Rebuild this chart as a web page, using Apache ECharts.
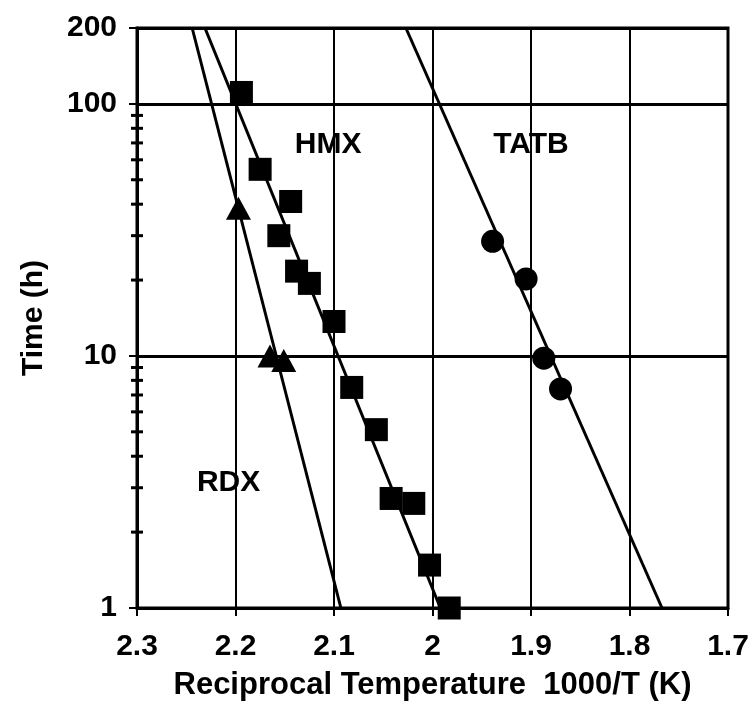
<!DOCTYPE html>
<html>
<head>
<meta charset="utf-8">
<script src="https://cdn.jsdelivr.net/npm/echarts@6/dist/echarts.min.js"></script>
<style>html,body{margin:0;padding:0;background:#fff;}#c{width:756px;height:713px;}</style>
</head>
<body>
<div id="c"></div>
<script>
// Measured data (x = 1000/T, y = time in h)
const hmxX = [2.194, 2.175, 2.144, 2.156, 2.138, 2.125, 2.100, 2.082, 2.057, 2.042, 2.019, 2.003, 1.983];
const hmxY = [111, 55, 41, 30, 21.7, 19.4, 13.7, 7.5, 5.1, 2.72, 2.6, 1.48, 1.0];
const rdxX = [2.197, 2.165, 2.151];
const rdxY = [38.5, 10.0, 9.6];
const tatbX = [1.939, 1.905, 1.887, 1.870];
const tatbY = [28.5, 20.2, 9.8, 7.4];
// Fitted lines (end points)
const fitY = [200, 1];
const hmxFitX = [2.231, 1.992];
const rdxFitX = [2.244, 2.093];
const tatbFitX = [2.027, 1.767];
// Series name labels
const labelNames = ['HMX', 'TATB', 'RDX'];
const labelX = [2.106, 1.900, 2.207];
const labelY = [69, 69, 3.15];
// Axis
const axisMinX = 1.7;
const axisMaxX = 2.3;
const minorTickValues = [2,3,4,5,6,7,8,9,20,30,40,50,60,70,80,90];

const zip = (xs, ys) => xs.map((x, i) => [x, ys[i]]);
const FONT = '"Liberation Sans", Arial, Helvetica, sans-serif';
const solid = {color: '#000', opacity: 1};

const chart = echarts.init(document.getElementById('c'), null, {renderer: 'canvas'});
chart.setOption({
  backgroundColor: '#fff',
  animation: false,
  grid: {left: 137, right: 28, top: 28, bottom: 105, show: true, borderColor: '#000', borderWidth: 3, backgroundColor: 'transparent'},
  xAxis: {
    type: 'value', inverse: true, min: axisMinX, max: axisMaxX, interval: 0.1,
    name: 'Reciprocal Temperature  1000/T (K)', nameLocation: 'middle', nameGap: 62,
    nameTextStyle: {color: '#000', fontFamily: FONT, fontWeight: 'bold', fontSize: 31},
    axisLine: {show: true, lineStyle: {color: '#000', width: 3}},
    axisTick: {show: true, length: 8, lineStyle: {color: '#000', width: 2}},
    axisLabel: {color: '#000', fontFamily: FONT, fontWeight: 'bold', fontSize: 30, margin: 24,
      formatter: v => String(Math.round(v * 10) / 10)},
    splitLine: {show: true, lineStyle: {color: '#000', width: 2}}
  },
  yAxis: {
    type: 'log', logBase: 10, min: 1, max: 200,
    name: 'Time (h)', nameLocation: 'middle', nameGap: 88, nameRotate: 90,
    nameTextStyle: {color: '#000', fontFamily: FONT, fontWeight: 'bold', fontSize: 30},
    axisLine: {show: true, lineStyle: {color: '#000', width: 3}},
    axisTick: {show: true, length: 8, lineStyle: {color: '#000', width: 2}},
    axisLabel: {color: '#000', fontFamily: FONT, fontWeight: 'bold', fontSize: 30, margin: 20},
    splitLine: {show: true, lineStyle: {color: '#000', width: 3}}
  },
  series: [
    {type: 'line', data: zip(hmxFitX, fitY), showSymbol: false, symbol: 'none', lineStyle: {color: '#000', width: 3, opacity: 1}, z: 3},
    {type: 'line', data: zip(rdxFitX, fitY), showSymbol: false, symbol: 'none', lineStyle: {color: '#000', width: 3, opacity: 1}, z: 3},
    {type: 'line', data: zip(tatbFitX, fitY), showSymbol: false, symbol: 'none', lineStyle: {color: '#000', width: 3, opacity: 1}, z: 3},
    {type: 'scatter', data: zip(hmxX, hmxY), symbol: 'rect', symbolSize: 23, itemStyle: solid, clip: false, z: 5},
    {type: 'scatter', data: zip(rdxX, rdxY), symbol: 'triangle', symbolSize: [25, 23], itemStyle: solid, clip: false, z: 5},
    {type: 'scatter', data: zip(tatbX, tatbY), symbol: 'circle', symbolSize: 23, itemStyle: solid, clip: false, z: 5},
    {type: 'scatter', data: labelNames.map((n, i) => ({name: n, value: [labelX[i], labelY[i]]})),
      symbolSize: 1, itemStyle: {color: 'rgba(0,0,0,0)', opacity: 1}, z: 6, silent: true,
      label: {show: true, position: 'inside', formatter: p => p.name, color: '#000', opacity: 1, fontFamily: FONT, fontWeight: 'bold', fontSize: 30}},
    {type: 'scatter', clip: false, z: 6, silent: true,
      data: minorTickValues.map(v => [axisMaxX, v]),
      symbol: 'rect', symbolSize: [12, 3], itemStyle: solid}
  ]
});
</script>
</body>
</html>
